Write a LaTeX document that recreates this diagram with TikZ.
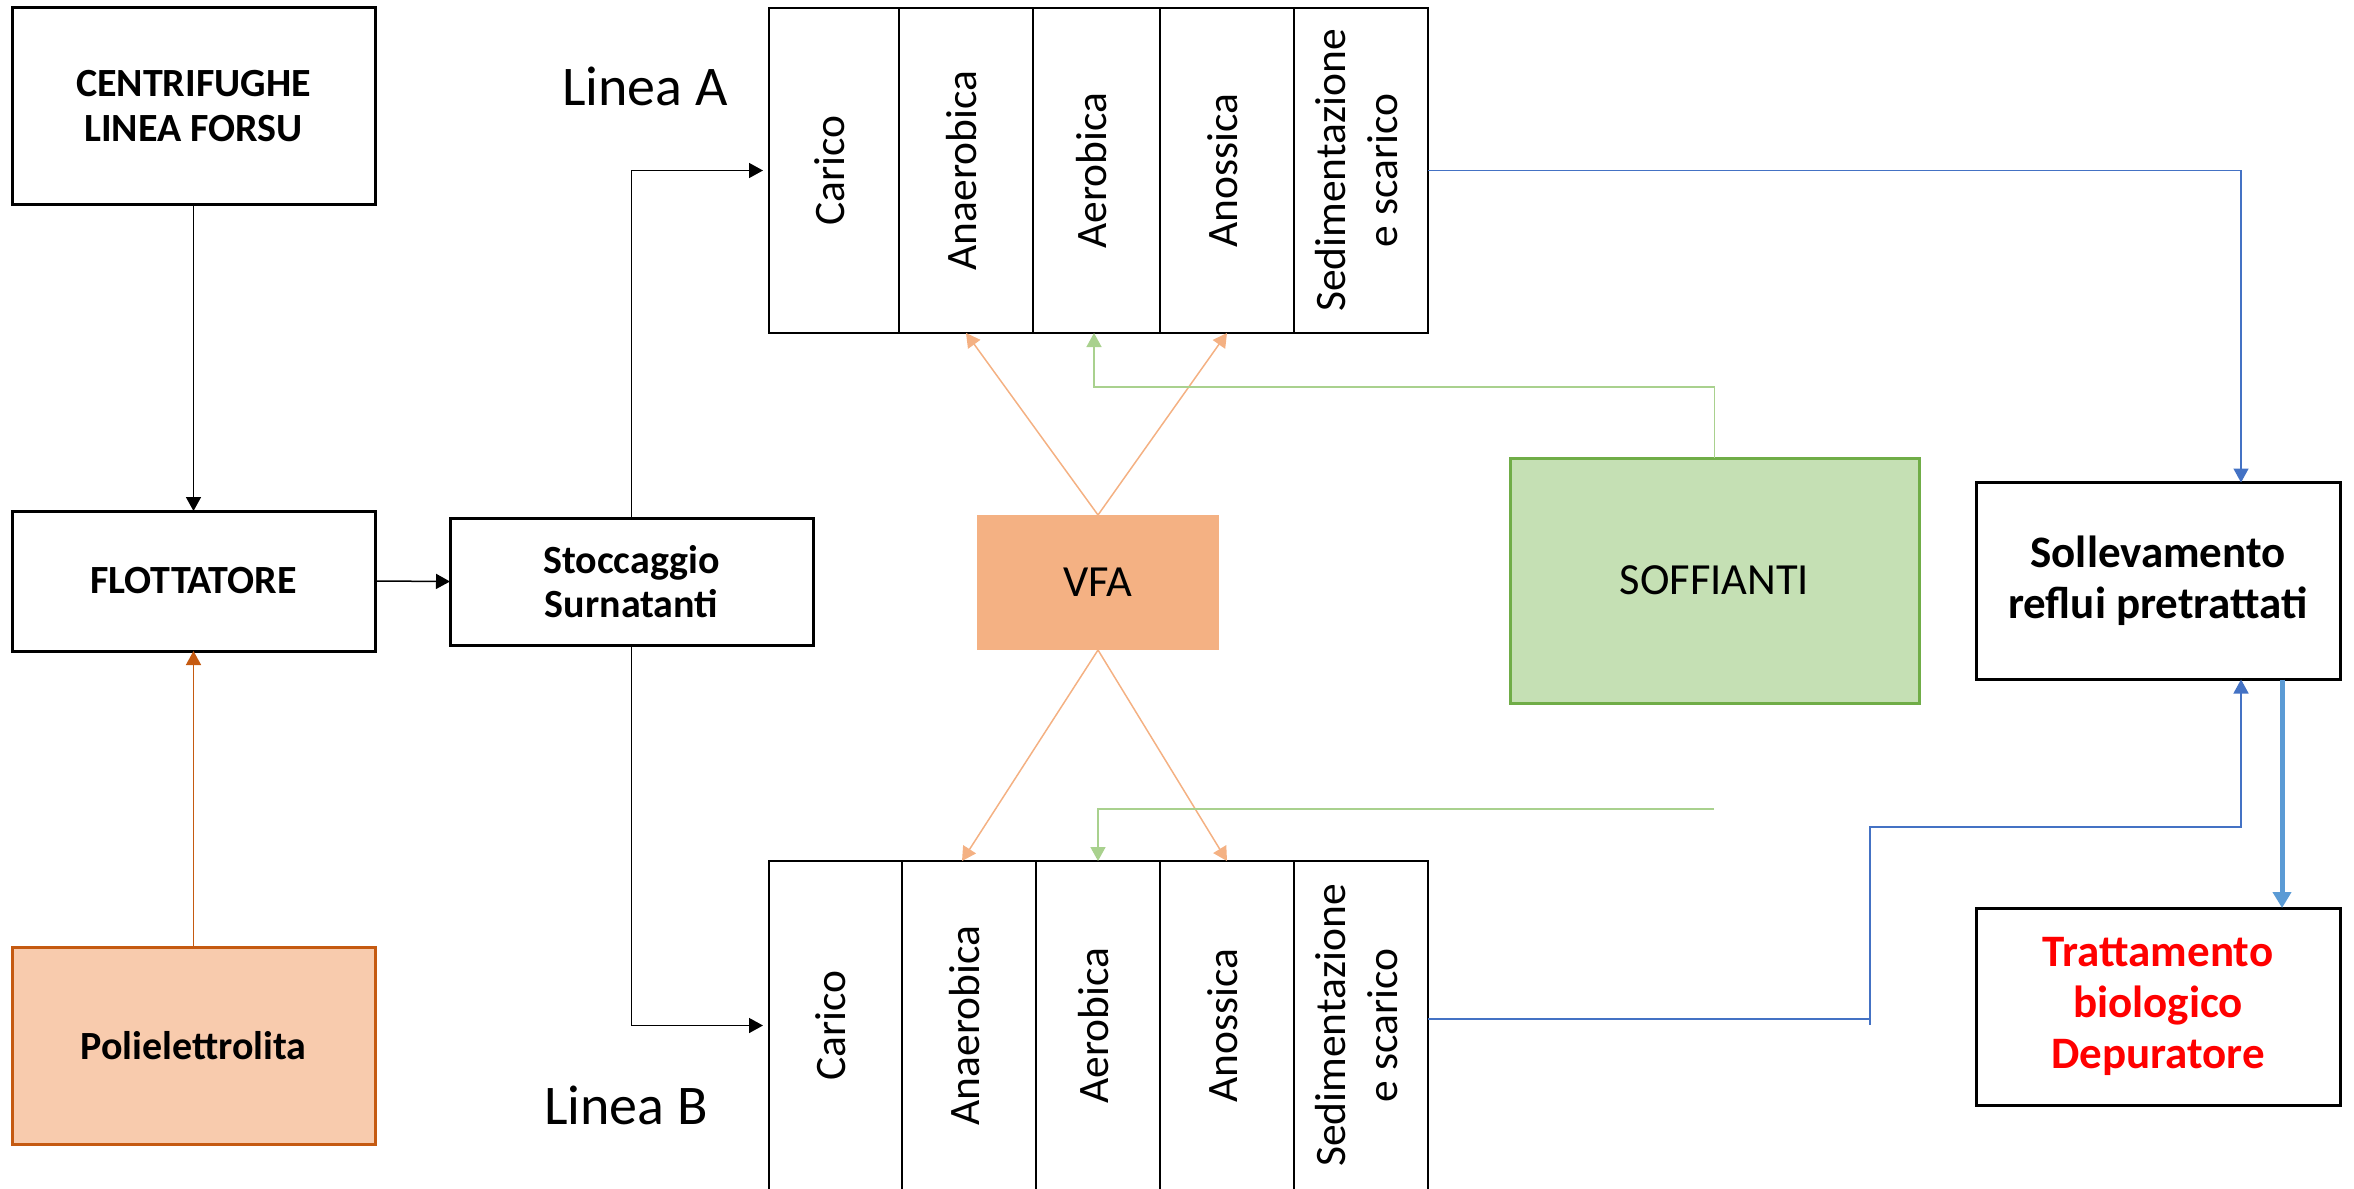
\documentclass[tikz,border=0pt]{standalone}
\usepackage{fontspec}
\setmainfont{Carlito}
\usetikzlibrary{arrows.meta}
\definecolor{poliF}{HTML}{F8CBAD}
\definecolor{poliD}{HTML}{C55A11}
\definecolor{vfaF}{HTML}{F4B183}
\definecolor{soffF}{HTML}{C5E0B4}
\definecolor{soffD}{HTML}{70AD47}
\definecolor{grn}{HTML}{A9D18E}
\definecolor{blu}{HTML}{4472C4}
\definecolor{blu2}{HTML}{5B9BD5}
\definecolor{redT}{HTML}{FF0000}
\tikzset{
  box/.style={draw=black, line width=1.5pt, fill=white, inner sep=0pt, outer sep=0pt, align=center,
    font=\bfseries\fontsize{20}{22.3}\selectfont},
  rbox/.style={box, font=\bfseries\fontsize{22.5}{25.5}\selectfont},
  colbox/.style={draw=black, line width=1.4pt, fill=white, inner sep=0pt, outer sep=0pt, align=center,
    font=\fontsize{21.75}{26}\selectfont},
  flat/.style={inner sep=0pt, outer sep=0pt, align=center, font=\fontsize{22.25}{26}\selectfont},
  conn/.style={line width=0.75pt, -{Triangle[length=7pt,width=7.5pt]}},
  lbl/.style={inner sep=0pt, font=\fontsize{28}{33}\selectfont}
}
\newcommand{\rot}[1]{\rotatebox{90}{\begin{tabular}{@{}c@{}}#1\end{tabular}}}
\begin{document}
\begin{tikzpicture}[x=0.5pt,y=-0.5pt]
\useasboundingbox (0,0) rectangle (2354,1188);
\clip (0,0) rectangle (2354,1188);
% left column
\node[box, minimum width=181.5pt, minimum height=98pt] (cent) at (193.5,106) {CENTRIFUGHE\\LINEA FORSU};
\node[box, minimum width=181.5pt, minimum height=70pt] (flot) at (193.5,581) {FLOTTATORE};
\node[box, draw=poliD, fill=poliF, minimum width=181.5pt, minimum height=98.5pt] (poli) at (193.5,1046) {Polielettrolita};
\node[box, minimum width=181.5pt, minimum height=63.5pt] (stoc) at (631.5,581.5) {Stoccaggio\\Surnatanti};
% labels
\node[lbl] (la) at (645,86) {Linea A};
\node[lbl] (lb) at (626,1105) {Linea B};
% line A columns
\node[colbox, minimum width=65pt, minimum height=162.5pt] (a1) at (834,170.5) {\rot{Carico}};
\node[colbox, minimum width=67pt, minimum height=162.5pt] (a2) at (966,170.5) {\rot{Anaerobica}};
\node[colbox, minimum width=63.5pt, minimum height=162.5pt] (a3) at (1096.5,170.5) {\rot{Aerobica}};
\node[colbox, minimum width=67pt, minimum height=162.5pt] (a4) at (1227,170.5) {\rot{Anossica}};
\node[colbox, minimum width=67pt, minimum height=162.5pt] (a5) at (1361,170.5) {\rot{Sedimentazione\\e scarico}};
% line B columns
\node[colbox, minimum width=66.5pt, minimum height=164.5pt] (b1) at (835.5,1025.5) {\rot{Carico}};
\node[colbox, minimum width=67pt, minimum height=164.5pt] (b2) at (969,1025.5) {\rot{Anaerobica}};
\node[colbox, minimum width=62pt, minimum height=164.5pt] (b3) at (1098,1025.5) {\rot{Aerobica}};
\node[colbox, minimum width=67pt, minimum height=164.5pt] (b4) at (1227,1025.5) {\rot{Anossica}};
\node[colbox, minimum width=67pt, minimum height=164.5pt] (b5) at (1361,1025.5) {\rot{Sedimentazione\\e scarico}};
% VFA, soffianti
\node[flat, fill=vfaF, minimum width=121pt, minimum height=67.5pt] (vfa) at (1098,582.5) {VFA};
\node[flat, draw=soffD, line width=1.5pt, fill=soffF, minimum width=204.5pt, minimum height=122.5pt] (soff) at (1714.5,580.5) {SOFFIANTI};
% right boxes
\node[rbox, minimum width=182pt, minimum height=98.5pt] (soll) at (2158,581) {Sollevamento\\reflui pretrattati};
\node[rbox, text=redT, minimum width=182pt, minimum height=98.5pt] (tratt) at (2158,1006.5) {Trattamento\\biologico\\Depuratore};
% connectors black
\draw[conn] (cent.south) -- (flot.north);
\draw[conn, poliD] (poli.north) -- (flot.south);
\draw[conn] (flot.east) -- (stoc.west);
\draw[conn, shorten >=3pt] (stoc.north) |- (a1.west);
\draw[conn, shorten >=3pt] (stoc.south) |- (b1.west);
% VFA arrows
\draw[conn, vfaF] (vfa.north) -- (a2.south);
\draw[conn, vfaF] (vfa.north) -- (a4.south);
\draw[conn, vfaF] (vfa.south) -- ([xshift=-3.5pt]b2.north);
\draw[conn, vfaF] (vfa.south) -- (b4.north);
% green
\draw[conn, grn] (soff.north) -- ++(0,-71) -| ([xshift=-1.25pt]a3.south);
\coordinate (gB) at (1714,809);
\draw[conn, grn] (gB) -| (b3.north);
% blue
\draw[conn, blu] (a5.east) -| ([xshift=41.5pt]soll.north);
\coordinate (jB) at (1870,1019);
\draw[line width=0.75pt, blu] ([yshift=3.25pt]b5.east) -- (jB) -- (1870,1025);
\draw[conn, blu] (jB) -- (1870,827) -| ([xshift=41.5pt]soll.south);
\draw[line width=2.5pt, blu2, -{Triangle[length=8pt,width=9pt]}] ([xshift=62pt]soll.south) -- ([xshift=62pt]tratt.north);
\end{tikzpicture}
\end{document}
